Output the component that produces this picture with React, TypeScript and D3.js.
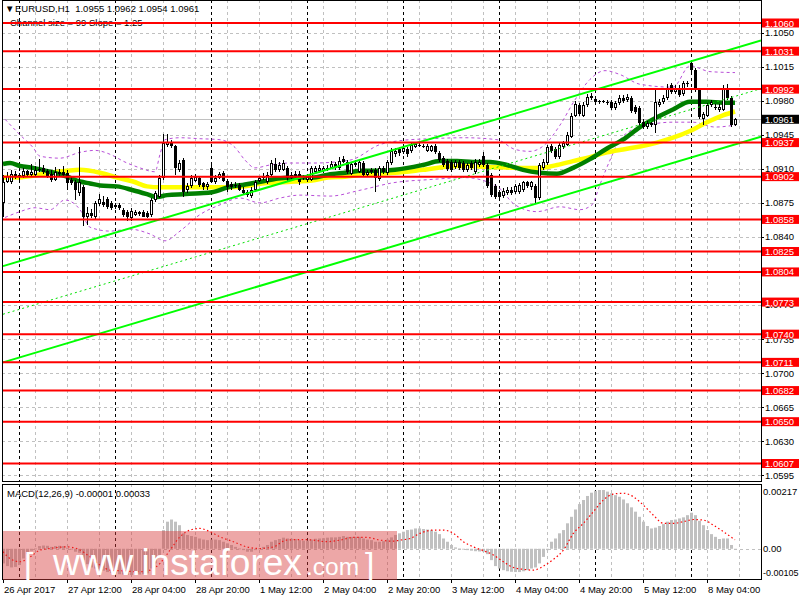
import React from "react";
import * as d3 from "d3";

// ---------- DATA (H1 bars, index 0 = 26 Apr 2017 20:00) ----------
const opens = [
  1.0875,1.0897,1.0896,1.0905,1.0902,1.0903,1.0908,1.0904,1.0904,1.0909,
  1.0911,1.0908,1.0905,1.0899,1.0907,1.0907,1.0906,1.0899,1.0897,1.0885,
  1.0891,1.0861,1.0865,1.0861,1.0874,1.0876,1.0879,1.0875,1.0871,1.0873,
  1.0868,1.0866,1.0859,1.0863,1.0866,1.0866,1.0865,1.0863,1.0878,1.0881,
  1.0901,1.0935,1.0937,1.0933,1.0909,1.0919,1.0888,1.0892,1.0898,1.0901,
  1.0895,1.0891,1.0911,1.0896,1.0901,1.0906,1.0898,1.0894,1.0893,1.0893,
  1.0888,1.0886,1.0882,1.0888,1.0898,1.0901,1.0896,1.0904,1.0915,1.0909,
  1.0909,1.0911,1.0901,1.0905,1.0905,1.0901,1.0899,1.0899,1.0907,1.0908,
  1.0908,1.0909,1.0911,1.0915,1.0911,1.0920,1.0917,1.0905,1.0916,1.0907,
  1.0916,1.0904,1.0907,1.0909,1.0900,1.0911,1.0906,1.0916,1.0925,1.0930,
  1.0927,1.0930,1.0928,1.0932,1.0935,1.0934,1.0928,1.0928,1.0934,1.0926,
  1.0921,1.0918,1.0917,1.0912,1.0917,1.0916,1.0909,1.0916,1.0907,1.0914,
  1.0923,1.0914,1.0904,1.0892,1.0886,1.0882,1.0885,1.0888,1.0886,1.0886,
  1.0888,1.0896,1.0891,1.0892,1.0880,1.0911,1.0916,1.0933,1.0930,1.0922,
  1.0932,1.0935,1.0943,1.0964,1.0976,1.0964,1.0976,1.0983,1.0982,1.0980,
  1.0980,1.0979,1.0979,1.0973,1.0978,1.0983,1.0981,1.0983,1.0974,1.0973,
  1.0958,1.0953,1.0957,1.0955,1.0976,1.0979,1.0983,1.0996,1.0989,1.0993,
  1.0987,1.0997,1.1019,1.1012,1.0991,1.0961,1.0964,1.0976,1.0974,1.0971,
  1.0971,1.0993,1.0983,1.0955,
];
const highs = [
  1.0904,1.0907,1.0909,1.0908,1.0906,1.0911,1.0909,1.0915,1.0913,1.0920,
  1.0914,1.0910,1.0909,1.0912,1.0910,1.0913,1.0909,1.0902,1.0899,1.0932,
  1.0893,1.0871,1.0869,1.0877,1.0884,1.0882,1.0881,1.0877,1.0875,1.0875,
  1.0870,1.0868,1.0870,1.0868,1.0867,1.0868,1.0867,1.0880,1.0887,1.0904,
  1.0946,1.0946,1.0940,1.0935,1.0919,1.0921,1.0895,1.0904,1.0905,1.0903,
  1.0897,1.0896,1.0914,1.0904,1.0907,1.0908,1.0900,1.0896,1.0896,1.0895,
  1.0891,1.0888,1.0891,1.0899,1.0903,1.0906,1.0907,1.0919,1.0921,1.0917,
  1.0919,1.0913,1.0907,1.0908,1.0908,1.0904,1.0905,1.0913,1.0913,1.0914,
  1.0913,1.0914,1.0918,1.0917,1.0922,1.0923,1.0919,1.0917,1.0919,1.0920,
  1.0918,1.0909,1.0911,1.0911,1.0913,1.0913,1.0919,1.0931,1.0931,1.0932,
  1.0934,1.0932,1.0937,1.0938,1.0937,1.0936,1.0936,1.0935,1.0936,1.0928,
  1.0923,1.0920,1.0919,1.0919,1.0919,1.0918,1.0916,1.0918,1.0920,1.0920,
  1.0927,1.0916,1.0906,1.0894,1.0888,1.0890,1.0891,1.0891,1.0894,1.0895,
  1.0898,1.0898,1.0898,1.0894,1.0916,1.0920,1.0935,1.0936,1.0932,1.0937,
  1.0939,1.0948,1.0967,1.0980,1.0978,1.0979,1.0987,1.0988,1.0984,1.0981,
  1.0981,1.0981,1.0981,1.0980,1.0986,1.0986,1.0987,1.0985,1.0976,1.0975,
  1.0961,1.0959,1.0959,1.0991,1.0982,1.0986,1.0997,1.0998,1.0996,1.0996,
  1.1000,1.1000,1.1021,1.1014,1.0993,1.0968,1.0978,1.0981,1.0977,1.0977,
  1.0996,1.0997,1.0985,1.0962,
];
const lows = [
  1.0860,1.0895,1.0894,1.0900,1.0899,1.0901,1.0902,1.0903,1.0902,1.0907,
  1.0905,1.0901,1.0896,1.0898,1.0903,1.0902,1.0888,1.0893,1.0878,1.0882,
  1.0851,1.0852,1.0859,1.0858,1.0872,1.0871,1.0869,1.0868,1.0869,1.0868,
  1.0861,1.0856,1.0856,1.0862,1.0862,1.0860,1.0859,1.0861,1.0876,1.0880,
  1.0899,1.0932,1.0931,1.0904,1.0907,1.0881,1.0885,1.0890,1.0896,1.0891,
  1.0888,1.0888,1.0895,1.0894,1.0900,1.0896,1.0886,1.0888,1.0890,1.0887,
  1.0883,1.0881,1.0880,1.0886,1.0896,1.0899,1.0894,1.0902,1.0907,1.0907,
  1.0908,1.0898,1.0899,1.0900,1.0893,1.0899,1.0897,1.0898,1.0905,1.0906,
  1.0906,1.0908,1.0910,1.0909,1.0909,1.0916,1.0905,1.0904,1.0912,1.0906,
  1.0902,1.0902,1.0905,1.0886,1.0898,1.0905,1.0904,1.0914,1.0922,1.0923,
  1.0925,1.0922,1.0926,1.0931,1.0932,1.0931,1.0927,1.0927,1.0925,1.0917,
  1.0912,1.0908,1.0907,1.0910,1.0909,1.0907,1.0907,1.0909,1.0905,1.0912,
  1.0912,1.0890,1.0881,1.0879,1.0879,1.0880,1.0883,1.0883,1.0884,1.0884,
  1.0886,1.0890,1.0888,1.0874,1.0878,1.0909,1.0914,1.0926,1.0920,1.0920,
  1.0930,1.0934,1.0942,1.0963,1.0964,1.0963,1.0974,1.0981,1.0977,1.0977,
  1.0978,1.0976,1.0971,1.0971,1.0976,1.0978,1.0979,1.0967,1.0966,1.0955,
  1.0951,1.0951,1.0953,1.0947,1.0974,1.0977,1.0981,1.0987,1.0987,1.0984,
  1.0985,1.0994,1.1010,1.0989,1.0961,1.0955,1.0963,1.0974,1.0971,1.0968,
  1.0969,1.0981,1.0953,1.0954,
];
const closes = [
  1.0897,1.0903,1.0905,1.0902,1.0904,1.0908,1.0904,1.0907,1.0909,1.0910,
  1.0907,1.0903,1.0899,1.0907,1.0905,1.0904,1.0895,1.0895,1.0888,1.0896,
  1.0860,1.0865,1.0862,1.0875,1.0879,1.0873,1.0871,1.0870,1.0873,1.0870,
  1.0863,1.0860,1.0867,1.0866,1.0864,1.0861,1.0861,1.0878,1.0885,1.0901,
  1.0937,1.0938,1.0933,1.0911,1.0916,1.0886,1.0892,1.0901,1.0902,1.0893,
  1.0891,1.0894,1.0897,1.0901,1.0905,1.0898,1.0891,1.0891,1.0892,1.0888,
  1.0885,1.0883,1.0888,1.0897,1.0901,1.0903,1.0904,1.0916,1.0909,1.0914,
  1.0916,1.0901,1.0904,1.0902,1.0896,1.0902,1.0902,1.0911,1.0911,1.0911,
  1.0911,1.0911,1.0915,1.0911,1.0918,1.0917,1.0907,1.0915,1.0914,1.0917,
  1.0904,1.0907,1.0909,1.0901,1.0911,1.0907,1.0917,1.0928,1.0928,1.0926,
  1.0931,1.0925,1.0935,1.0936,1.0934,1.0933,1.0933,1.0933,1.0927,1.0919,
  1.0914,1.0910,1.0909,1.0917,1.0911,1.0909,1.0914,1.0911,1.0917,1.0917,
  1.0914,1.0892,1.0883,1.0881,1.0881,1.0887,1.0888,1.0885,1.0892,1.0893,
  1.0896,1.0892,1.0896,1.0880,1.0914,1.0917,1.0932,1.0928,1.0922,1.0935,
  1.0937,1.0945,1.0964,1.0977,1.0966,1.0976,1.0984,1.0985,1.0979,1.0979,
  1.0979,1.0978,1.0973,1.0978,1.0983,1.0980,1.0984,1.0969,1.0968,1.0957,
  1.0953,1.0957,1.0955,1.0979,1.0979,1.0983,1.0993,1.0989,1.0993,1.0986,
  1.0998,1.0998,1.1012,1.0991,1.0963,1.0966,1.0976,1.0979,1.0973,1.0974,
  1.0993,1.0983,1.0955,1.0961,
];

// indicator lines: [bar index, price]
const greenMA: [number, number][] = [[0,1.0915],[1.75,1.0916],[4.25,1.0913],[7.5,1.0911],[11.75,1.0907],[16,1.0902],[19.25,1.0897],[21.75,1.0895],[24.25,1.0893],[28.5,1.0892],[32.5,1.0888],[36,1.0884],[38.5,1.0881],[41,1.0883],[45,1.0884],[49.25,1.0885],[52.25,1.0886],[56.25,1.0891],[60.5,1.0894],[64.75,1.0897],[68.75,1.09],[73,1.0901],[77.25,1.0901],[81.25,1.0904],[85.5,1.0906],[89.75,1.0908],[93.75,1.0908],[98,1.0909],[105,1.0914],[109.25,1.0918],[113.5,1.0918],[117.5,1.0917],[121.75,1.0917],[126,1.0914],[130,1.0909],[134.25,1.0906],[138.5,1.0905],[142.5,1.0911],[146.75,1.092],[151,1.0931],[155,1.094],[159.25,1.0953],[163.5,1.0963],[167.5,1.0971],[171.75,1.0979],[176,1.0979],[180,1.0978],[183,1.0978]];
const yellowMA: [number, number][] = [[0,1.0901],[3.5,1.0901],[7.5,1.0903],[11.75,1.0906],[16,1.0908],[19.25,1.0909],[24.25,1.0906],[28.5,1.0901],[32.5,1.0897],[36,1.0892],[39.25,1.0891],[43.5,1.0891],[48,1.0891],[56.25,1.0891],[60.5,1.0892],[64.75,1.0895],[68.75,1.0896],[73,1.0897],[77.25,1.0898],[81.25,1.0901],[85.5,1.0902],[89.75,1.0904],[93.75,1.0905],[98,1.0906],[105,1.0909],[113.5,1.0913],[121.75,1.0912],[130,1.0911],[134.25,1.0911],[138.5,1.0914],[142.5,1.0918],[146.75,1.0922],[151,1.0927],[155,1.093],[159.25,1.0933],[163.5,1.0937],[167.5,1.0942],[171.75,1.0949],[176,1.0958],[180,1.0965],[183,1.0969]];
const upperBand: [number, number][] = [[0.5,1.0961],[4.25,1.0945],[7.5,1.0932],[9.25,1.0923],[14.25,1.0921],[19.25,1.0927],[23,1.0929],[26.75,1.0925],[30.5,1.0917],[34.25,1.0911],[38,1.0907],[39.25,1.0925],[40.5,1.094],[44.25,1.0942],[49.25,1.0941],[54.25,1.094],[58,1.0932],[60.5,1.0919],[63,1.0911],[66.75,1.0914],[71.75,1.0916],[77.5,1.0916],[86.75,1.0919],[94.25,1.0935],[99.25,1.0939],[106.75,1.0941],[115.5,1.0942],[123.5,1.094],[128,1.093],[131.75,1.0928],[135.5,1.0935],[139.25,1.0955],[143,1.0981],[146.75,1.1002],[150.5,1.1011],[154.25,1.1007],[159.25,1.0997],[167.5,1.0994],[171.75,1.1016],[176.75,1.101],[183,1.1009]];
const lowerBand: [number, number][] = [[0.5,1.086],[4.25,1.0866],[8,1.087],[11.75,1.0868],[15.5,1.0878],[19.25,1.0868],[21.75,1.085],[26.75,1.0846],[31.75,1.0848],[36.75,1.0843],[40.5,1.0836],[44.25,1.0846],[49.25,1.0863],[54.25,1.0873],[59.25,1.088],[64.25,1.0875],[69.25,1.088],[74.25,1.0883],[81.75,1.0882],[89.25,1.0888],[98,1.0896],[106.75,1.0899],[115.5,1.0901],[123.5,1.0892],[128,1.0873],[133.5,1.0866],[139.25,1.0871],[144.25,1.0868],[147.25,1.0873],[149.25,1.0894],[151.75,1.0919],[154.25,1.094],[159.25,1.0953],[167.5,1.0958],[172.5,1.0958],[178,1.0953],[183,1.0955]];

// regression channel end points at bar 0 and at the right edge (bar 189.5)
const channelIdx = [0, 189.5];
const channelUpper = [1.0810, 1.1042];
const channelMid = [1.07605, 1.09925];
const channelLower = [1.0711, 1.0943];

// horizontal support / resistance levels
const levels = [1.1060, 1.1031, 1.0992, 1.0937, 1.0902, 1.0858, 1.0825, 1.0804, 1.0773, 1.0740, 1.0711, 1.0682, 1.0650, 1.0607];
const lastPrice = 1.0961;
const priceTicks = [1.1050, 1.1015, 1.0980, 1.0945, 1.0910, 1.0875, 1.0840, 1.0805, 1.0770, 1.0735, 1.0700, 1.0665, 1.0630, 1.0595];
// tick labels hidden behind a level box in the reference
const hiddenTickLabels = [1.0805];

// MACD main (histogram) and signal, in units of 0.00001
const macdHist = [
  -54,-64,-69,-67,-60,-36,-20,-7,1,10,
  12,11,7,10,11,10,4,-1,-11,-15,
  -42,-57,-69,-73,-76,-81,-86,-89,-91,-94,
  -95,-97,-97,-96,-95,-94,-91,-73,-54,-23,
  69,100,108,100,87,57,51,47,44,38,
  34,32,34,34,32,26,20,14,7,1,
  -5,-11,-11,-5,1,7,14,26,32,36,
  41,38,37,36,32,30,30,34,37,38,
  39,41,42,42,44,47,44,44,44,44,
  38,34,32,26,26,28,34,42,51,57,
  63,69,71,75,75,73,71,69,63,54,
  38,26,14,5,1,-1,-5,-7,-9,-10,
  -11,-20,-42,-64,-73,-79,-83,-85,-86,-86,
  -83,-79,-73,-69,-54,-30,-5,26,38,57,
  69,94,118,145,165,180,195,207,214,217,
  217,211,205,198,192,182,168,153,137,118,
  100,84,75,78,84,91,100,106,108,112,
  116,124,133,124,103,87,69,54,44,36,
  38,38,14,-1,
];
const macdSignal: [number, number][] = [[0,-11],[1.75,-36],[4.25,-48],[6.75,-30],[9.25,-5],[11.75,1],[15.9,7],[18.4,1],[21.75,-30],[24.25,-60],[26.75,-79],[29.25,-81],[34.25,-85],[36.75,-79],[39.25,-54],[41.75,-5],[44.25,44],[46.75,69],[49.25,75],[51.75,63],[54.25,44],[57.6,26],[60.9,7],[64.25,1],[67.6,7],[70.9,32],[74.25,34],[77.6,32],[80.9,26],[84.25,32],[87.6,42],[90.9,42],[94.25,32],[97.6,28],[99.25,32],[101.75,38],[104.25,57],[107.6,69],[110.1,69],[112.6,57],[115.1,26],[117.6,7],[120.1,-7],[122.6,-23],[125.1,-48],[127.6,-69],[130.1,-76],[132.6,-79],[135.1,-64],[137.6,-39],[140.1,-5],[142.6,57],[145.1,94],[147.6,137],[150.1,180],[152.6,202],[155.1,205],[157.6,192],[160.1,161],[162.6,124],[165.1,94],[167.6,94],[170.1,100],[172.6,108],[175.1,106],[177.6,87],[180.1,63],[183,33]];
const macdTicks = [217, 0, -105];
const macdTickLabels = ["0.00217", "0.00", "-0.00105"];

// time axis
const timeTickIdx = [0, 16, 32, 48, 64, 80, 96, 112, 128, 144, 160, 176];
const timeTickLabels = ["26 Apr 2017", "27 Apr 12:00", "28 Apr 04:00", "28 Apr 20:00", "1 May 12:00", "2 May 04:00", "2 May 20:00", "3 May 12:00", "4 May 04:00", "4 May 20:00", "5 May 12:00", "8 May 04:00"];
const daySeparators = [4, 28, 52, 76, 100, 124, 148, 172];
const gridIdx = [8, 16, 24, 32, 40, 48, 56, 64, 72, 80, 88, 96, 104, 112, 120, 128, 136, 144, 152, 160, 168, 176, 184];

const FONT = "'Liberation Sans', Arial, sans-serif";

export default function App() {
  const L = 2, R = 761;
  const mainTop = 0, mainBot = 481;
  const mTop = 484, mBot = 579;

  const x = d3.scaleLinear().domain([0, 189.5]).range([3, 761]);
  const y = d3.scaleLinear().domain([1.0607, 1.106]).range([463.5, 23]);
  const ym = d3.scaleLinear().domain([-105, 217]).range([577.2, 490]);

  const line = d3.line<[number, number]>().x((d) => x(d[0])).y((d) => y(d[1])).curve(d3.curveMonotoneX);
  const mline = d3.line<[number, number]>().x((d) => x(d[0])).y((d) => ym(d[1])).curve(d3.curveMonotoneX);

  const fs = 9.5;
  const boxH = 9;

  return (
    <svg width={800} height={600} style={{ display: "block", position: "absolute", left: 0, top: 0, background: "#fff" }} fontFamily={FONT}>
      <defs>
        <clipPath id="mainClip"><rect x={L} y={mainTop} width={R - L} height={mainBot - mainTop} /></clipPath>
        <clipPath id="macdClip"><rect x={L} y={mTop} width={R - L} height={mBot - mTop} /></clipPath>
      </defs>
      <rect x={0} y={0} width={800} height={600} fill="#fff" />

      {/* ---------- main panel ---------- */}
      <g clipPath="url(#mainClip)">
        {priceTicks.map((v) => (
          <line key={"hg" + v} x1={L} x2={R} y1={Math.round(y(v)) + 0.5} y2={Math.round(y(v)) + 0.5} stroke="#c0c0c0" strokeDasharray="3,3" />
        ))}
        {gridIdx.map((i) => (
          <line key={"vg" + i} x1={Math.round(x(i)) + 0.5} x2={Math.round(x(i)) + 0.5} y1={mainTop} y2={mainBot} stroke="#c0c0c0" strokeDasharray="3,3" />
        ))}
        {daySeparators.map((i) => (
          <line key={"ds" + i} x1={Math.round(x(i)) + 0.5} x2={Math.round(x(i)) + 0.5} y1={mainTop} y2={mainBot} stroke="#000" strokeDasharray="3,3" />
        ))}
        {/* bid line */}
        <line x1={L} x2={R} y1={Math.round(y(lastPrice)) + 0.5} y2={Math.round(y(lastPrice)) + 0.5} stroke="#c0c0c0" />

        {/* bands */}
        <path d={line(upperBand) || ""} fill="none" stroke="#b84fd8" strokeDasharray="3,3" />
        <path d={line(lowerBand) || ""} fill="none" stroke="#b84fd8" strokeDasharray="3,3" />
        {/* moving averages */}
        <path d={line(yellowMA) || ""} fill="none" stroke="#ffff00" strokeWidth={4.5} />
        <path d={line(greenMA) || ""} fill="none" stroke="#007f00" strokeWidth={4.5} />

        {/* candles */}
        {closes.map((c, i) => {
          const o = opens[i];
          const cx = Math.round(x(i));
          const yo = Math.round(y(o));
          const yc = Math.round(y(c));
          const top = Math.min(yo, yc);
          const h = Math.max(Math.abs(yo - yc), 1);
          const bull = c >= o;
          return (
            <g key={"c" + i}>
              <line x1={cx + 0.5} x2={cx + 0.5} y1={Math.round(y(highs[i]))} y2={Math.round(y(lows[i]))} stroke="#000" />
              <rect x={cx - 0.5} y={top + 0.5} width={2} height={h - 1 > 0 ? h - 1 : 0.01} fill={bull ? "#fff" : "#000"} stroke="#000" />
            </g>
          );
        })}

        {/* channel */}
        <line x1={x(channelIdx[0])} x2={x(channelIdx[1])} y1={y(channelUpper[0])} y2={y(channelUpper[1])} stroke="#00ff00" strokeWidth={2} />
        <line x1={x(channelIdx[0])} x2={x(channelIdx[1])} y1={y(channelLower[0])} y2={y(channelLower[1])} stroke="#00ff00" strokeWidth={2} />
        <line x1={x(channelIdx[0])} x2={x(channelIdx[1])} y1={y(channelMid[0])} y2={y(channelMid[1])} stroke="#00e000" strokeDasharray="2,3" />

        {/* header text */}
        <text x={5} y={12} fontSize={fs} fill="#000">▼</text>
        <text x={15} y={12} fontSize={fs} fill="#000" xmlSpace="preserve">EURUSD,H1  1.0955 1.0962 1.0954 1.0961</text>
        <text x={10} y={26} fontSize={fs} fill="#000">Channel size = 99 Slope = 1.25</text>

        {/* levels */}
        {levels.map((v) => (
          <line key={"lv" + v} x1={L} x2={R} y1={y(v)} y2={y(v)} stroke="#ff0000" strokeWidth={2} />
        ))}
      </g>
      <rect x={L + 0.5} y={mainTop + 0.5} width={R - L} height={mainBot - mainTop} fill="none" stroke="#000" />

      {/* right price axis */}
      {priceTicks.map((v) => (
        <g key={"pt" + v}>
          <line x1={R} x2={R + 3} y1={Math.round(y(v)) + 0.5} y2={Math.round(y(v)) + 0.5} stroke="#000" />
          {hiddenTickLabels.indexOf(v) < 0 && (
            <text x={765} y={y(v) + 3.5} fontSize={fs} fill="#000">{v.toFixed(4)}</text>
          )}
        </g>
      ))}
      {levels.map((v) => (
        <g key={"lb" + v}>
          <rect x={762} y={y(v) - boxH / 2} width={37} height={boxH} fill="#ff0000" />
          <text x={765} y={y(v) + 3.5} fontSize={fs} fill="#fff">{v.toFixed(4)}</text>
        </g>
      ))}
      <rect x={762} y={y(lastPrice) - boxH / 2} width={37} height={boxH} fill="#000" />
      <text x={765} y={y(lastPrice) + 3.5} fontSize={fs} fill="#fff">{lastPrice.toFixed(4)}</text>

      {/* ---------- MACD panel ---------- */}
      <g clipPath="url(#macdClip)">
        {gridIdx.map((i) => (
          <line key={"mvg" + i} x1={Math.round(x(i)) + 0.5} x2={Math.round(x(i)) + 0.5} y1={mTop} y2={mBot} stroke="#c0c0c0" strokeDasharray="3,3" />
        ))}
        {daySeparators.map((i) => (
          <line key={"mds" + i} x1={Math.round(x(i)) + 0.5} x2={Math.round(x(i)) + 0.5} y1={mTop} y2={mBot} stroke="#000" strokeDasharray="3,3" />
        ))}
        <line x1={L} x2={R} y1={Math.round(ym(0)) + 0.5} y2={Math.round(ym(0)) + 0.5} stroke="#c0c0c0" strokeDasharray="3,3" />
        {macdHist.map((v, i) => {
          const cx = Math.round(x(i));
          const y0 = ym(0);
          const y1 = ym(v);
          return <rect key={"mh" + i} x={cx - 1} y={Math.min(y0, y1)} width={3} height={Math.max(Math.abs(y1 - y0), 0.8)} fill="#c0c0c0" />;
        })}
        <path d={mline(macdSignal) || ""} fill="none" stroke="#ff0000" strokeDasharray="1.5,2.5" strokeWidth={1.2} />
        <text x={7} y={497} fontSize={fs} fill="#000">MACD(12,26,9) -0.00001 0.00033</text>
      </g>
      <rect x={L + 0.5} y={mTop + 0.5} width={R - L} height={mBot - mTop} fill="none" stroke="#000" />
      {macdTicks.map((v, k) => (
        <text key={"mt" + v} x={763} y={k === 0 ? 495 : k === 1 ? ym(v) + 3.5 : 576} fontSize={k === 2 ? 9 : fs} fill="#000">{macdTickLabels[k]}</text>
      ))}

      {/* time axis */}
      {timeTickIdx.map((i, k) => (
        <g key={"tt" + i}>
          <line x1={Math.round(x(i)) + 0.5} x2={Math.round(x(i)) + 0.5} y1={mBot} y2={mBot + 4} stroke="#000" />
          <text x={Math.round(x(i)) + 1} y={593} fontSize={fs} fill="#000">{timeTickLabels[k]}</text>
        </g>
      ))}

      {/* watermark */}
      <rect x={3} y={531} width={394} height={49} fill="#d83c3c" opacity={0.45} />
      <g fill="#fff" fontFamily={FONT}>
        <text x={24} y={576} fontSize={34} fontWeight={300}>[</text>
        <text x={53} y={575} fontSize={37}>www.instaforex</text>
        <text x={306} y={575} fontSize={24.5}>.com</text>
        <text x={365} y={576} fontSize={34} fontWeight={300}>]</text>
      </g>
    </svg>
  );
}
